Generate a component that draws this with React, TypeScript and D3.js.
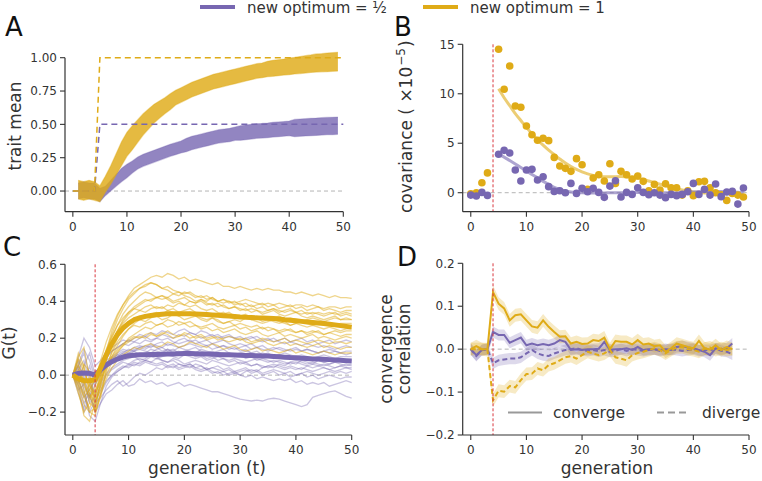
import React from "react";
import * as d3 from "d3";

// ---------- colours ----------
const PURPLE = "#7767b1";
const GOLD = "#dfab17";
const RED = "#d9363e";
const TEXT = "#333333";
const FONT = "DejaVu Sans, sans-serif";

// ---------- Panel A : trait mean (generations 1..49) ----------
const genA = d3.range(1, 50);
const goldMeanA = [0.01, 0.0, 0.01, 0.0, -0.02, 0.05, 0.12, 0.2, 0.28, 0.35, 0.4, 0.45, 0.5, 0.54, 0.58, 0.61, 0.64, 0.67, 0.7, 0.72, 0.74, 0.76, 0.775, 0.79, 0.805, 0.82, 0.83, 0.84, 0.85, 0.86, 0.87, 0.88, 0.89, 0.9, 0.905, 0.915, 0.92, 0.925, 0.93, 0.935, 0.94, 0.945, 0.95, 0.955, 0.96, 0.962, 0.965, 0.968, 0.97];
const goldSpreadA = [0.07, 0.07, 0.07, 0.07, 0.06, 0.06, 0.07, 0.08, 0.09, 0.09, 0.09, 0.085, 0.08, 0.075, 0.07, 0.065, 0.06, 0.06, 0.055, 0.055, 0.055, 0.055, 0.055, 0.055, 0.055, 0.055, 0.055, 0.055, 0.055, 0.055, 0.055, 0.055, 0.055, 0.055, 0.055, 0.058, 0.06, 0.06, 0.06, 0.062, 0.062, 0.064, 0.065, 0.066, 0.068, 0.068, 0.07, 0.07, 0.07];
const purpleMeanA = [0.0, 0.01, 0.0, 0.0, -0.03, 0.0, 0.04, 0.08, 0.12, 0.15, 0.18, 0.21, 0.23, 0.245, 0.26, 0.275, 0.29, 0.305, 0.318, 0.33, 0.345, 0.36, 0.37, 0.38, 0.39, 0.4, 0.41, 0.415, 0.42, 0.43, 0.435, 0.44, 0.445, 0.45, 0.452, 0.455, 0.46, 0.463, 0.466, 0.47, 0.472, 0.475, 0.478, 0.48, 0.482, 0.485, 0.487, 0.488, 0.49];
const purpleSpreadA = [0.06, 0.06, 0.06, 0.06, 0.05, 0.035, 0.04, 0.045, 0.05, 0.05, 0.045, 0.045, 0.045, 0.045, 0.045, 0.045, 0.045, 0.045, 0.045, 0.045, 0.05, 0.05, 0.05, 0.05, 0.05, 0.05, 0.05, 0.05, 0.05, 0.05, 0.055, 0.055, 0.055, 0.055, 0.055, 0.055, 0.055, 0.055, 0.055, 0.055, 0.065, 0.065, 0.065, 0.065, 0.065, 0.065, 0.065, 0.065, 0.065];
const optGens = [0, 4, 5, 50];
const optGold = [0, 0, 1, 1];
const optPurple = [0, 0, 0.5, 0.5];

// ---------- Panel B : covariance (generations 0..49) ----------
const genB = d3.range(0, 50);
const covGold = [-0.1, 0.0, 1.0, 2.0, null, 14.5, 10.45, 12.8, 8.76, 8.63, 6.74, 5.86, 5.3, 5.5, 5.26, 3.57, 2.7, 2.46, 2.16, 3.44, 2.83, 0.34, 1.48, 1.82, 1.18, 2.93, 0.94, 2.16, 1.82, 1.38, 1.69, 1.15, 0.2, 0.84, 0.27, 0.91, 0.5, 0.5, -0.24, 0.2, -0.3, 1.11, 1.15, 0.5, 0.0, -0.2, -0.78, -0.07, -0.24, -0.44];
const covPurple = [-0.24, -0.34, 0.03, -0.27, null, 3.88, 4.28, 4.01, 2.29, 1.18, 2.29, 2.36, 1.28, 1.62, 0.61, 0.13, 0.2, 0.0, 0.94, -0.07, 0.44, 0.1, 0.44, 0.03, -0.47, 0.67, 1.21, -0.44, 0.03, -0.17, 0.5, 0.03, -0.2, 0.0, -0.24, -0.5, -0.17, -0.3, -0.17, 0.1, 0.94, -0.17, 0.34, -0.24, 0.88, -0.4, 0.07, 0.13, -1.15, 0.47];
const genFit = d3.range(5, 50);
const fitGold = [10.5, 9.6, 8.8, 8.0, 7.3, 6.6, 5.95, 5.35, 4.8, 4.3, 3.85, 3.4, 3.0, 2.65, 2.35, 2.1, 1.9, 1.75, 1.65, 1.6, 1.6, 1.62, 1.63, 1.6, 1.55, 1.45, 1.33, 1.18, 1.02, 0.86, 0.7, 0.55, 0.41, 0.28, 0.17, 0.08, 0.02, -0.02, -0.03, -0.02, -0.02, -0.05, -0.1, -0.18, -0.28];
const fitPurple = [3.9, 3.6, 3.25, 2.9, 2.55, 2.2, 1.85, 1.5, 1.15, 0.85, 0.55, 0.33, 0.18, 0.08, 0.03, 0.0, -0.02, -0.03, -0.03, -0.02, -0.01, 0, 0, 0, 0.01, 0.02, 0.03, 0.03, 0.02, 0.01, 0, -0.01, 0, 0.02, 0.05, 0.08, 0.1, 0.12, 0.13, 0.13, 0.12, 0.1, 0.07, 0.04, 0.0];

// ---------- Panel C : G(t) (generations 0..50) ----------
const genC = d3.range(0, 51);
const goldRepsC = [
  [0, -0.05, -0.12, -0.08, -0.02, 0.08, 0.18, 0.26, 0.33, 0.38, 0.43, 0.47, 0.49, 0.51, 0.53, 0.54, 0.53, 0.55, 0.54, 0.52, 0.53, 0.51, 0.52, 0.51, 0.5, 0.49, 0.5, 0.48, 0.48, 0.47, 0.48, 0.47, 0.46, 0.47, 0.46, 0.47, 0.46, 0.46, 0.45, 0.45, 0.44, 0.45, 0.44, 0.43, 0.44, 0.43, 0.42, 0.43, 0.42, 0.42, 0.415],
  [0, 0.08, 0.02, -0.06, -0.1, 0.02, 0.12, 0.22, 0.3, 0.36, 0.41, 0.44, 0.47, 0.49, 0.5, 0.49, 0.47, 0.48, 0.46, 0.45, 0.44, 0.45, 0.43, 0.42, 0.43, 0.41, 0.4, 0.41, 0.4, 0.39, 0.4, 0.41, 0.4, 0.39, 0.38, 0.39, 0.38, 0.39, 0.38, 0.37, 0.38, 0.38, 0.37, 0.38, 0.37, 0.36, 0.37, 0.37, 0.36, 0.37, 0.37],
  [0, -0.1, -0.2, -0.15, -0.18, -0.05, 0.08, 0.17, 0.24, 0.29, 0.33, 0.36, 0.38, 0.4, 0.41, 0.42, 0.41, 0.42, 0.4, 0.41, 0.42, 0.4, 0.39, 0.4, 0.38, 0.39, 0.37, 0.38, 0.36, 0.37, 0.36, 0.35, 0.36, 0.35, 0.34, 0.35, 0.36, 0.35, 0.34, 0.35, 0.34, 0.33, 0.34, 0.33, 0.34, 0.33, 0.34, 0.33, 0.33, 0.34, 0.33],
  [0, 0.12, 0.05, -0.1, -0.2, -0.12, 0.02, 0.1, 0.16, 0.21, 0.25, 0.28, 0.3, 0.29, 0.31, 0.32, 0.3, 0.31, 0.33, 0.32, 0.3, 0.31, 0.32, 0.3, 0.29, 0.31, 0.3, 0.28, 0.29, 0.3, 0.29, 0.31, 0.3, 0.29, 0.28, 0.29, 0.3, 0.29, 0.28, 0.27, 0.28, 0.29, 0.28, 0.27, 0.28, 0.29, 0.28, 0.27, 0.28, 0.28, 0.28],
  [0, -0.08, -0.22, -0.25, -0.15, -0.08, 0.0, 0.07, 0.12, 0.16, 0.2, 0.22, 0.24, 0.26, 0.25, 0.27, 0.28, 0.26, 0.27, 0.29, 0.28, 0.26, 0.27, 0.25, 0.26, 0.24, 0.25, 0.23, 0.24, 0.25, 0.23, 0.22, 0.23, 0.24, 0.22, 0.21, 0.22, 0.23, 0.21, 0.22, 0.21, 0.2, 0.21, 0.22, 0.2, 0.21, 0.2, 0.19, 0.2, 0.21, 0.2],
  [0, 0.05, -0.05, -0.12, -0.08, -0.02, 0.05, 0.1, 0.14, 0.17, 0.19, 0.21, 0.2, 0.22, 0.23, 0.21, 0.22, 0.24, 0.22, 0.21, 0.23, 0.22, 0.2, 0.21, 0.19, 0.2, 0.21, 0.19, 0.18, 0.19, 0.2, 0.18, 0.17, 0.18, 0.19, 0.17, 0.16, 0.17, 0.18, 0.16, 0.17, 0.16, 0.15, 0.16, 0.17, 0.15, 0.16, 0.15, 0.14, 0.15, 0.15],
  [0, -0.02, -0.1, -0.05, -0.12, 0.0, 0.12, 0.2, 0.27, 0.33, 0.37, 0.4, 0.43, 0.45, 0.44, 0.42, 0.43, 0.41, 0.39, 0.4, 0.38, 0.37, 0.38, 0.36, 0.35, 0.36, 0.34, 0.33, 0.34, 0.32, 0.31, 0.32, 0.3, 0.31, 0.29, 0.3, 0.29, 0.28, 0.29, 0.27, 0.28, 0.27, 0.26, 0.27, 0.26, 0.25, 0.26, 0.25, 0.24, 0.25, 0.25],
  [0, 0.1, 0.15, -0.02, -0.2, -0.1, -0.02, 0.04, 0.08, 0.11, 0.13, 0.15, 0.14, 0.16, 0.17, 0.15, 0.16, 0.18, 0.17, 0.15, 0.16, 0.18, 0.17, 0.16, 0.15, 0.17, 0.16, 0.14, 0.15, 0.16, 0.14, 0.13, 0.14, 0.15, 0.13, 0.14, 0.13, 0.12, 0.13, 0.14, 0.12, 0.13, 0.12, 0.11, 0.12, 0.13, 0.12, 0.11, 0.12, 0.12, 0.12],
  [0, 0.03, -0.04, -0.14, -0.06, 0.04, 0.14, 0.21, 0.27, 0.31, 0.34, 0.36, 0.35, 0.37, 0.38, 0.36, 0.37, 0.35, 0.36, 0.34, 0.35, 0.36, 0.34, 0.33, 0.34, 0.32, 0.33, 0.34, 0.32, 0.31, 0.32, 0.33, 0.31, 0.32, 0.31, 0.3, 0.31, 0.32, 0.3, 0.31, 0.3, 0.29, 0.3, 0.31, 0.3, 0.29, 0.3, 0.31, 0.3, 0.3, 0.3],
  [0, -0.06, -0.16, -0.2, -0.22, -0.1, 0.03, 0.13, 0.2, 0.25, 0.28, 0.3, 0.32, 0.31, 0.33, 0.34, 0.33, 0.35, 0.34, 0.32, 0.33, 0.34, 0.32, 0.31, 0.3, 0.31, 0.29, 0.28, 0.29, 0.27, 0.28, 0.27, 0.26, 0.27, 0.25, 0.26, 0.25, 0.24, 0.25, 0.24, 0.23, 0.24, 0.23, 0.24, 0.23, 0.22, 0.23, 0.24, 0.23, 0.24, 0.24],
  [0, 0.06, -0.03, -0.1, -0.15, -0.04, 0.08, 0.17, 0.24, 0.3, 0.34, 0.37, 0.39, 0.41, 0.4, 0.42, 0.43, 0.42, 0.44, 0.43, 0.45, 0.44, 0.42, 0.43, 0.41, 0.42, 0.4, 0.41, 0.39, 0.4, 0.38, 0.39, 0.37, 0.38, 0.39, 0.37, 0.38, 0.36, 0.37, 0.38, 0.36, 0.37, 0.35, 0.36, 0.37, 0.35, 0.36, 0.35, 0.34, 0.35, 0.35],
  [0, -0.03, -0.12, -0.18, -0.1, -0.03, 0.04, 0.09, 0.13, 0.16, 0.18, 0.2, 0.21, 0.2, 0.22, 0.21, 0.23, 0.22, 0.2, 0.21, 0.22, 0.2, 0.21, 0.22, 0.2, 0.21, 0.19, 0.2, 0.21, 0.2, 0.19, 0.2, 0.18, 0.19, 0.2, 0.19, 0.18, 0.19, 0.2, 0.18, 0.19, 0.18, 0.17, 0.18, 0.19, 0.18, 0.17, 0.18, 0.18, 0.17, 0.18],
  [0, 0.02, -0.08, -0.2, -0.18, -0.02, 0.13, 0.24, 0.32, 0.38, 0.42, 0.45, 0.47, 0.48, 0.5, 0.49, 0.47, 0.46, 0.44, 0.45, 0.43, 0.42, 0.4, 0.41, 0.39, 0.38, 0.39, 0.37, 0.36, 0.37, 0.35, 0.36, 0.34, 0.35, 0.33, 0.34, 0.35, 0.33, 0.32, 0.33, 0.34, 0.32, 0.31, 0.32, 0.31, 0.3, 0.31, 0.32, 0.3, 0.31, 0.3],
  [0, -0.04, 0.06, 0.02, -0.14, -0.06, 0.05, 0.12, 0.18, 0.22, 0.25, 0.27, 0.26, 0.28, 0.29, 0.27, 0.28, 0.3, 0.29, 0.27, 0.28, 0.29, 0.27, 0.26, 0.27, 0.28, 0.26, 0.25, 0.26, 0.27, 0.25, 0.26, 0.24, 0.25, 0.26, 0.24, 0.25, 0.23, 0.24, 0.25, 0.23, 0.24, 0.22, 0.23, 0.24, 0.22, 0.23, 0.22, 0.21, 0.22, 0.22],
  [0, 0.09, 0.04, -0.08, -0.12, 0.0, 0.1, 0.18, 0.24, 0.28, 0.31, 0.33, 0.35, 0.34, 0.36, 0.37, 0.36, 0.38, 0.37, 0.39, 0.38, 0.4, 0.39, 0.41, 0.4, 0.42, 0.4, 0.39, 0.4, 0.38, 0.39, 0.37, 0.38, 0.36, 0.37, 0.35, 0.36, 0.34, 0.35, 0.36, 0.34, 0.35, 0.33, 0.34, 0.33, 0.32, 0.33, 0.34, 0.32, 0.33, 0.32],
];
const purpleRepsC = [
  [0, -0.05, -0.15, -0.1, -0.2, -0.15, -0.1, -0.08, -0.05, -0.03, -0.06, -0.05, -0.02, -0.04, -0.03, -0.05, -0.04, -0.06, -0.05, -0.04, -0.06, -0.05, -0.06, -0.07, -0.08, -0.09, -0.09, -0.1, -0.11, -0.12, -0.13, -0.135, -0.14, -0.135, -0.14, -0.13, -0.125, -0.13, -0.14, -0.15, -0.16, -0.17, -0.16, -0.12, -0.11, -0.1, -0.09, -0.085, -0.1, -0.115, -0.125],
  [0, 0.05, 0.0, -0.12, -0.18, -0.1, -0.04, 0.0, 0.03, 0.05, 0.04, 0.06, 0.05, 0.07, 0.06, 0.05, 0.06, 0.04, 0.05, 0.03, 0.04, 0.05, 0.03, 0.02, 0.03, 0.01, 0.02, 0.0, 0.01, 0.02, 0.0, -0.01, 0.0, -0.02, -0.01, -0.02, -0.03, -0.02, -0.03, -0.02, -0.04, -0.03, -0.05, -0.04, -0.05, -0.04, -0.06, -0.05, -0.04, -0.03, -0.04],
  [0, 0.1, 0.2, 0.15, 0.05, 0.08, 0.12, 0.15, 0.17, 0.19, 0.18, 0.2, 0.22, 0.21, 0.23, 0.22, 0.24, 0.23, 0.22, 0.24, 0.25, 0.23, 0.22, 0.24, 0.23, 0.21, 0.22, 0.2, 0.21, 0.2, 0.19, 0.2, 0.21, 0.19, 0.18, 0.19, 0.2, 0.18, 0.17, 0.18, 0.17, 0.16, 0.17, 0.16, 0.15, 0.16, 0.15, 0.14, 0.15, 0.16, 0.15],
  [0, -0.1, -0.18, -0.05, 0.02, 0.04, 0.07, 0.09, 0.11, 0.1, 0.12, 0.13, 0.11, 0.12, 0.14, 0.13, 0.12, 0.14, 0.13, 0.15, 0.14, 0.13, 0.12, 0.14, 0.13, 0.12, 0.13, 0.14, 0.12, 0.11, 0.12, 0.13, 0.12, 0.11, 0.12, 0.11, 0.1, 0.11, 0.12, 0.11, 0.1, 0.11, 0.1, 0.09, 0.1, 0.11, 0.1, 0.09, 0.1, 0.1, 0.1],
  [0, 0.02, -0.08, -0.22, -0.25, -0.15, -0.06, -0.01, 0.02, 0.04, 0.06, 0.05, 0.07, 0.08, 0.07, 0.09, 0.08, 0.07, 0.09, 0.08, 0.06, 0.07, 0.08, 0.07, 0.06, 0.08, 0.07, 0.06, 0.05, 0.06, 0.07, 0.06, 0.05, 0.06, 0.04, 0.05, 0.06, 0.05, 0.04, 0.05, 0.04, 0.03, 0.05, 0.04, 0.05, 0.04, 0.03, 0.04, 0.05, 0.04, 0.04],
  [0, -0.04, 0.05, 0.12, 0.0, 0.03, 0.06, 0.08, 0.1, 0.12, 0.14, 0.13, 0.15, 0.16, 0.15, 0.17, 0.18, 0.16, 0.17, 0.19, 0.2, 0.18, 0.19, 0.17, 0.16, 0.17, 0.15, 0.16, 0.14, 0.15, 0.13, 0.14, 0.12, 0.13, 0.11, 0.12, 0.1, 0.11, 0.1, 0.09, 0.1, 0.09, 0.08, 0.09, 0.08, 0.07, 0.08, 0.09, 0.08, 0.07, 0.08],
  [0, 0.08, -0.02, -0.15, -0.12, -0.06, 0.0, 0.03, 0.05, 0.07, 0.06, 0.08, 0.09, 0.08, 0.1, 0.09, 0.1, 0.11, 0.1, 0.09, 0.11, 0.1, 0.09, 0.1, 0.08, 0.09, 0.1, 0.09, 0.08, 0.09, 0.08, 0.07, 0.08, 0.09, 0.08, 0.07, 0.08, 0.07, 0.06, 0.07, 0.08, 0.07, 0.06, 0.07, 0.06, 0.05, 0.06, 0.07, 0.06, 0.05, 0.06],
  [0, -0.02, -0.12, -0.08, -0.03, 0.04, 0.09, 0.13, 0.15, 0.17, 0.16, 0.18, 0.17, 0.19, 0.18, 0.2, 0.19, 0.2, 0.18, 0.17, 0.18, 0.19, 0.17, 0.18, 0.19, 0.17, 0.18, 0.19, 0.17, 0.16, 0.17, 0.16, 0.17, 0.15, 0.16, 0.14, 0.15, 0.14, 0.13, 0.14, 0.15, 0.13, 0.14, 0.13, 0.12, 0.13, 0.12, 0.13, 0.12, 0.11, 0.12],
  [0, 0.05, 0.12, 0.0, -0.15, -0.12, -0.08, -0.05, -0.03, -0.06, -0.04, -0.01, 0.01, 0.0, 0.02, 0.04, 0.03, 0.05, 0.04, 0.06, 0.05, 0.04, 0.06, 0.05, 0.03, 0.04, 0.05, 0.03, 0.04, 0.02, 0.03, 0.04, 0.02, 0.03, 0.01, 0.02, 0.03, 0.02, 0.01, 0.02, 0.0, 0.01, 0.02, 0.01, 0.0, 0.01, 0.02, 0.01, 0.02, 0.01, 0.02],
  [0, -0.08, -0.05, 0.05, -0.05, 0.0, 0.05, 0.08, 0.1, 0.12, 0.11, 0.13, 0.14, 0.13, 0.12, 0.14, 0.15, 0.13, 0.14, 0.12, 0.13, 0.14, 0.15, 0.13, 0.12, 0.13, 0.11, 0.12, 0.11, 0.1, 0.11, 0.09, 0.1, 0.08, 0.09, 0.08, 0.07, 0.08, 0.07, 0.06, 0.07, 0.06, 0.05, 0.06, 0.05, 0.06, 0.05, 0.04, 0.05, 0.06, 0.05],
  [0, 0.04, -0.06, -0.12, -0.05, 0.02, 0.06, 0.09, 0.11, 0.13, 0.12, 0.14, 0.15, 0.14, 0.16, 0.15, 0.13, 0.14, 0.12, 0.13, 0.11, 0.12, 0.1, 0.11, 0.09, 0.1, 0.08, 0.09, 0.07, 0.08, 0.06, 0.07, 0.05, 0.06, 0.05, 0.04, 0.05, 0.04, 0.03, 0.04, 0.03, 0.04, 0.03, 0.02, 0.03, 0.04, 0.03, 0.02, 0.03, 0.04, 0.03],
  [0, -0.06, -0.2, -0.12, 0.0, 0.06, 0.1, 0.13, 0.15, 0.17, 0.19, 0.18, 0.2, 0.21, 0.19, 0.2, 0.22, 0.21, 0.2, 0.22, 0.21, 0.23, 0.22, 0.2, 0.21, 0.22, 0.2, 0.21, 0.22, 0.2, 0.21, 0.19, 0.2, 0.21, 0.19, 0.2, 0.18, 0.19, 0.2, 0.18, 0.19, 0.2, 0.18, 0.19, 0.17, 0.18, 0.19, 0.17, 0.18, 0.19, 0.18],
  [0, 0.03, 0.08, -0.04, -0.1, -0.04, 0.01, 0.04, 0.06, 0.08, 0.09, 0.1, 0.08, 0.09, 0.11, 0.1, 0.08, 0.07, 0.08, 0.06, 0.05, 0.06, 0.04, 0.03, 0.04, 0.02, 0.01, 0.02, 0.0, 0.01, 0.0, 0.02, 0.03, 0.02, 0.04, 0.05, 0.04, 0.06, 0.05, 0.07, 0.06, 0.08, 0.07, 0.06, 0.08, 0.07, 0.06, 0.07, 0.08, 0.07, 0.07],
  [0, 0.06, 0.14, 0.08, -0.02, 0.04, 0.08, 0.1, 0.12, 0.14, 0.13, 0.15, 0.16, 0.15, 0.17, 0.16, 0.15, 0.17, 0.16, 0.15, 0.16, 0.17, 0.16, 0.15, 0.16, 0.14, 0.15, 0.16, 0.15, 0.14, 0.15, 0.16, 0.14, 0.15, 0.14, 0.13, 0.14, 0.15, 0.14, 0.13, 0.14, 0.13, 0.14, 0.13, 0.12, 0.13, 0.14, 0.13, 0.12, 0.13, 0.13],
  [0, -0.03, -0.1, -0.2, -0.14, -0.08, -0.03, 0.0, 0.02, 0.04, 0.05, 0.07, 0.06, 0.08, 0.07, 0.06, 0.07, 0.05, 0.06, 0.04, 0.05, 0.06, 0.04, 0.05, 0.03, 0.04, 0.03, 0.02, 0.03, 0.01, 0.02, 0.03, 0.01, 0.02, 0.0, 0.01, 0.02, 0.0, 0.01, -0.01, 0.0, 0.01, -0.01, 0.0, -0.02, -0.01, 0.0, -0.01, -0.02, -0.01, -0.01],
];
const goldMeanC = [0, -0.02, -0.03, -0.03, -0.025, 0.04, 0.11, 0.17, 0.22, 0.255, 0.28, 0.3, 0.31, 0.318, 0.323, 0.327, 0.33, 0.332, 0.333, 0.333, 0.333, 0.332, 0.331, 0.33, 0.328, 0.326, 0.324, 0.322, 0.32, 0.318, 0.315, 0.313, 0.312, 0.31, 0.309, 0.308, 0.306, 0.304, 0.3, 0.297, 0.294, 0.291, 0.288, 0.285, 0.282, 0.279, 0.276, 0.272, 0.268, 0.264, 0.26];
const purpleMeanC = [0, 0.01, 0.012, 0.01, 0.0, 0.03, 0.055, 0.073, 0.087, 0.098, 0.105, 0.108, 0.11, 0.111, 0.112, 0.112, 0.113, 0.114, 0.115, 0.116, 0.117, 0.117, 0.116, 0.115, 0.114, 0.113, 0.112, 0.111, 0.11, 0.109, 0.108, 0.107, 0.106, 0.105, 0.104, 0.103, 0.101, 0.099, 0.097, 0.095, 0.094, 0.092, 0.09, 0.088, 0.087, 0.086, 0.084, 0.082, 0.08, 0.078, 0.076];

// ---------- Panel D : convergence correlation (generations 0..47) ----------
const genD = d3.range(0, 48);
const goldConverge = [0, 0.007, 0, 0, 0.133, 0.106, 0.095, 0.067, 0.079, 0.081, 0.067, 0.053, 0.05, 0.067, 0.052, 0.04, 0.029, 0.03, 0.013, 0.017, 0.012, 0.013, 0.021, 0.019, 0.027, 0, 0.019, 0.017, 0.017, 0.011, 0.021, 0.011, 0.013, 0.007, 0.009, -0.006, 0.002, 0.013, 0.009, 0.005, 0.002, 0.019, 0.002, -0.001, 0.009, -0.002, 0.005, 0];
const goldDiverge = [0, 0, 0, -0.002, -0.119, -0.097, -0.099, -0.086, -0.089, -0.072, -0.058, -0.057, -0.045, -0.049, -0.037, -0.033, -0.026, -0.019, -0.016, -0.022, -0.014, -0.006, -0.01, -0.014, -0.01, -0.002, -0.019, -0.022, -0.026, -0.014, -0.009, -0.006, -0.002, 0.002, -0.002, -0.01, -0.002, 0.004, 0.005, 0, -0.002, -0.006, 0.001, 0.004, -0.002, 0.002, -0.002, 0];
const purpleConverge = [0, -0.014, -0.002, 0, 0.04, 0.033, 0.033, 0.015, 0.021, 0.027, 0.009, 0.013, 0.009, 0.012, 0.009, 0.013, 0.021, 0.017, -0.002, 0, -0.002, 0, 0, 0.001, 0.017, -0.002, 0, 0, 0.002, -0.002, 0.005, -0.002, 0, 0, -0.002, 0, -0.002, 0.005, 0.007, 0.004, 0.002, -0.002, -0.006, -0.014, 0.002, 0, 0.002, 0.013];
const purpleDiverge = [0, -0.016, -0.002, 0, -0.033, -0.026, -0.024, -0.022, -0.022, -0.019, -0.01, -0.002, -0.01, -0.014, -0.016, -0.01, -0.006, -0.002, 0, 0.002, -0.002, -0.004, -0.002, -0.005, -0.002, -0.006, -0.004, 0, -0.004, 0, -0.002, -0.004, -0.002, 0, -0.004, -0.002, 0, -0.002, -0.004, -0.002, 0, -0.004, -0.002, -0.002, 0.001, -0.004, -0.006, -0.012];
const goldCI = 0.015;
const purpleCI = 0.013;

// ---------- ticks ----------
const xTicks = [0, 10, 20, 30, 40, 50];
const yTicksA = [0, 0.25, 0.5, 0.75, 1.0];
const yTicksB = [0, 5, 10, 15];
const yTicksC = [-0.2, 0, 0.2, 0.4, 0.6];
const yTicksD = [-0.2, -0.1, 0, 0.1, 0.2];
const shiftGen = 4;

const fmtMinus = (s: string) => s.replace("-", "\u2212");

type Sc = d3.ScaleLinear<number, number>;

function Axes({ x, y, yTicks, yFmt }: { x: Sc; y: Sc; yTicks: number[]; yFmt: (v: number) => string }) {
  const [x0, x1] = x.range();
  const [yb, yt] = y.range();
  return (
    <g fontFamily={FONT} fontSize={12} fill={TEXT}>
      <line x1={x0} x2={x0} y1={yt} y2={yb} stroke={TEXT} strokeWidth={1.2} />
      <line x1={x0} x2={x1} y1={yb} y2={yb} stroke={TEXT} strokeWidth={1.2} />
      {xTicks.map((t) => (
        <g key={"x" + t}>
          <line x1={x(t)} x2={x(t)} y1={yb} y2={yb + 5} stroke={TEXT} strokeWidth={1.1} />
          <text x={x(t)} y={yb + 19} textAnchor="middle">{t}</text>
        </g>
      ))}
      {yTicks.map((t) => (
        <g key={"y" + t}>
          <line x1={x0 - 5} x2={x0} y1={y(t)} y2={y(t)} stroke={TEXT} strokeWidth={1.1} />
          <text x={x0 - 8} y={y(t)} dy="0.35em" textAnchor="end">{fmtMinus(yFmt(t))}</text>
        </g>
      ))}
    </g>
  );
}

function ZeroLine({ x, y }: { x: Sc; y: Sc }) {
  const [x0, x1] = x.range();
  return <line x1={x0} x2={x1} y1={y(0)} y2={y(0)} stroke="#b4b4b4" strokeWidth={1} strokeDasharray="4,3" />;
}
function ShiftLine({ x, y }: { x: Sc; y: Sc }) {
  const [yb, yt] = y.range();
  return <line x1={x(shiftGen)} x2={x(shiftGen)} y1={yt} y2={yb} stroke={RED} strokeWidth={1} strokeDasharray="3,2" />;
}

export default function App() {
  const xA = d3.scaleLinear().domain([-1.45, 50]).range([65, 343.3]);
  const yA = d3.scaleLinear().domain([-0.155, 1.0]).range([211.7, 57.7]);
  const xB = d3.scaleLinear().domain([-1.45, 50]).range([462.7, 749]);
  const yB = d3.scaleLinear().domain([-1.92, 15]).range([211.7, 44.3]);
  const xC = d3.scaleLinear().domain([-1.4, 50]).range([65, 351.7]);
  const yC = d3.scaleLinear().domain([-0.324, 0.6]).range([435, 264.3]);
  const xD = d3.scaleLinear().domain([-1.45, 50]).range([462.7, 749]);
  const yD = d3.scaleLinear().domain([-0.2, 0.2]).range([435, 263.3]);

  const bandA = (mean: number[], spread: number[]) =>
    d3.area<number>().x((_, i) => xA(genA[i])).y0((_, i) => yA(mean[i] - spread[i])).y1((_, i) => yA(mean[i] + spread[i]))(mean) || "";
  const lineA = (vals: number[]) => d3.line<number>().x((_, i) => xA(genA[i])).y((d) => yA(d))(vals) || "";
  const optLine = (vals: number[]) => d3.line<number>().x((_, i) => xA(optGens[i])).y((d) => yA(d))(vals) || "";

  const fitLine = (vals: number[]) => d3.line<number>().x((_, i) => xB(genFit[i])).y((d) => yB(d)).curve(d3.curveMonotoneX)(vals) || "";

  const lineC = (vals: number[]) => d3.line<number>().x((_, i) => xC(genC[i])).y((d) => yC(d))(vals) || "";

  const lineD = (vals: number[]) => d3.line<number>().x((_, i) => xD(genD[i])).y((d) => yD(d))(vals) || "";
  const bandD = (vals: number[], ci: number) =>
    d3.area<number>().x((_, i) => xD(genD[i])).y0((d) => yD(d - ci)).y1((d) => yD(d + ci))(vals) || "";

  return (
    <svg width={762} height={481} viewBox="0 0 762 481" style={{ display: "block", position: "absolute", left: 0, top: 0, background: "#fff" }}>
      <rect width={762} height={481} fill="#fff" />

      <g fontFamily={FONT} fontSize={15} fill={TEXT}>
        <line x1={200} x2={235} y1={7} y2={7} stroke={PURPLE} strokeWidth={4} />
        <text x={247} y={12.5}>new optimum = ½</text>
        <line x1={423} x2={458} y1={7} y2={7} stroke={GOLD} strokeWidth={4} />
        <text x={470} y={12.5}>new optimum = 1</text>
      </g>

      <g fontFamily={FONT} fontSize={26} fill="#111">
        <text x={5} y={36}>A</text>
        <text x={394} y={36}>B</text>
        <text x={3} y={256}>C</text>
        <text x={397} y={266}>D</text>
      </g>

      {/* Panel A */}
      <ZeroLine x={xA} y={yA} />
      <path d={bandA(purpleMeanA, purpleSpreadA)} fill={PURPLE} fillOpacity={0.8} />
      <path d={lineA(purpleMeanA.map((m, i) => m + purpleSpreadA[i]))} fill="none" stroke={PURPLE} strokeOpacity={0.35} strokeWidth={1.2} />
      <path d={lineA(purpleMeanA.map((m, i) => m - purpleSpreadA[i]))} fill="none" stroke={PURPLE} strokeOpacity={0.35} strokeWidth={1.2} />
      <path d={bandA(goldMeanA, goldSpreadA)} fill={GOLD} fillOpacity={0.82} />
      <path d={lineA(goldMeanA.map((m, i) => m + goldSpreadA[i]))} fill="none" stroke={GOLD} strokeOpacity={0.4} strokeWidth={1.2} />
      <path d={lineA(goldMeanA.map((m, i) => m - goldSpreadA[i]))} fill="none" stroke={GOLD} strokeOpacity={0.4} strokeWidth={1.2} />
      <path d={optLine(optPurple)} fill="none" stroke={PURPLE} strokeWidth={1.5} strokeDasharray="6,4" />
      <path d={optLine(optGold)} fill="none" stroke={GOLD} strokeWidth={1.5} strokeDasharray="6,4" />
      <Axes x={xA} y={yA} yTicks={yTicksA} yFmt={(v) => v.toFixed(2)} />
      <text fontFamily={FONT} fontSize={17} fill={TEXT} textAnchor="middle" transform="translate(21,126) rotate(-90)">trait mean</text>

      {/* Panel B */}
      <ZeroLine x={xB} y={yB} />
      <ShiftLine x={xB} y={yB} />
      <path d={fitLine(fitGold)} fill="none" stroke={GOLD} strokeOpacity={0.6} strokeWidth={3} />
      <path d={fitLine(fitPurple)} fill="none" stroke={PURPLE} strokeOpacity={0.6} strokeWidth={3} />
      {genB.map((g, i) =>
        covGold[i] == null ? null : <circle key={"cg" + g} cx={xB(g)} cy={yB(covGold[i] as number)} r={3.8} fill={GOLD} />
      )}
      {genB.map((g, i) =>
        covPurple[i] == null ? null : <circle key={"cp" + g} cx={xB(g)} cy={yB(covPurple[i] as number)} r={3.8} fill={PURPLE} />
      )}
      <Axes x={xB} y={yB} yTicks={yTicksB} yFmt={(v) => String(v)} />
      <text fontFamily={FONT} fontSize={17} fill={TEXT} transform="translate(412,213) rotate(-90)">
        {"covariance ( ×10"}<tspan fontSize={12} dy={-7} dx={1}>−5</tspan><tspan dy={7} dx={1}>)</tspan>
      </text>

      {/* Panel C */}
      <ZeroLine x={xC} y={yC} />
      {purpleRepsC.map((r, i) => (
        <path key={"pr" + i} d={lineC(r)} fill="none" stroke={PURPLE} strokeOpacity={0.38} strokeWidth={1.3} />
      ))}
      {goldRepsC.map((r, i) => (
        <path key={"gr" + i} d={lineC(r)} fill="none" stroke={GOLD} strokeOpacity={0.5} strokeWidth={1.3} />
      ))}
      <path d={lineC(purpleMeanC)} fill="none" stroke={PURPLE} strokeWidth={5} strokeLinejoin="round" />
      <path d={lineC(goldMeanC)} fill="none" stroke={GOLD} strokeWidth={5} strokeLinejoin="round" />
      <ShiftLine x={xC} y={yC} />
      <Axes x={xC} y={yC} yTicks={yTicksC} yFmt={(v) => v.toFixed(1)} />
      <text fontFamily={FONT} fontSize={17} fill={TEXT} textAnchor="middle" transform="translate(15,343) rotate(-90)">G(t)</text>
      <text fontFamily={FONT} fontSize={17} fill={TEXT} textAnchor="middle" x={207} y={474}>generation (t)</text>

      {/* Panel D */}
      <ZeroLine x={xD} y={yD} />
      <path d={bandD(purpleConverge, purpleCI)} fill={PURPLE} fillOpacity={0.25} />
      <path d={bandD(purpleDiverge, purpleCI)} fill={PURPLE} fillOpacity={0.25} />
      <path d={bandD(goldConverge, goldCI)} fill={GOLD} fillOpacity={0.25} />
      <path d={bandD(goldDiverge, goldCI)} fill={GOLD} fillOpacity={0.25} />
      <path d={lineD(purpleConverge)} fill="none" stroke={PURPLE} strokeWidth={2} />
      <path d={lineD(purpleDiverge)} fill="none" stroke={PURPLE} strokeWidth={2} strokeDasharray="5,3" />
      <path d={lineD(goldConverge)} fill="none" stroke={GOLD} strokeWidth={2} />
      <path d={lineD(goldDiverge)} fill="none" stroke={GOLD} strokeWidth={2} strokeDasharray="5,3" />
      <ShiftLine x={xD} y={yD} />
      <Axes x={xD} y={yD} yTicks={yTicksD} yFmt={(v) => v.toFixed(1)} />
      <g fontFamily={FONT} fontSize={17} fill={TEXT} textAnchor="middle">
        <text transform="translate(392,349) rotate(-90)">convergence</text>
        <text transform="translate(410,349) rotate(-90)">correlation</text>
        <text x={607} y={474}>generation</text>
      </g>
      <g fontFamily={FONT} fontSize={15.5} fill={TEXT}>
        <line x1={508} x2={542} y1={412.5} y2={412.5} stroke="#999" strokeWidth={2.2} />
        <text x={553} y={418}>converge</text>
        <line x1={657} x2={690} y1={412.5} y2={412.5} stroke="#999" strokeWidth={2.2} strokeDasharray="7,4" />
        <text x={702} y={418}>diverge</text>
      </g>
    </svg>
  );
}
